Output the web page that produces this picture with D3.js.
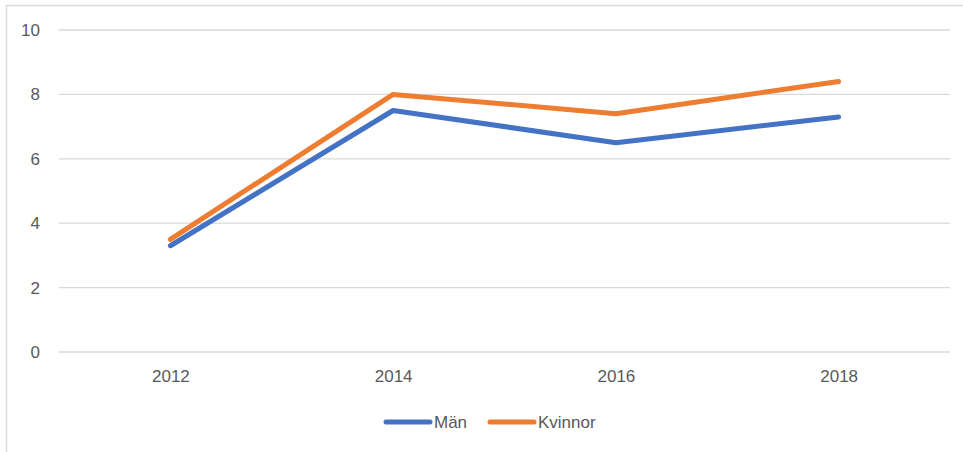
<!DOCTYPE html>
<html lang="sv">
<head>
<meta charset="utf-8">
<script src="https://d3js.org/d3.v7.min.js"></script>
<style>
    body { margin: 0; background: #fff; }
    text { font-family: "Liberation Sans", "DejaVu Sans", sans-serif; fill: #595959; }
</style>
</head>
<body>
<div id="container"></div>
<script>
    var years = ["2012", "2014", "2016", "2018"];
    var man = [3.3, 7.5, 6.5, 7.3];
    var kvinnor = [3.5, 8.0, 7.4, 8.4];
    var yTicks = [0, 2, 4, 6, 8, 10];

    var series = [
        {name: "Män", values: man, color: "#4472C4"},
        {name: "Kvinnor", values: kvinnor, color: "#ED7D31"}
    ];

    var W = 963, H = 452;
    var margin = {top: 30, right: 13, bottom: 100, left: 59},
        width = W - margin.left - margin.right,
        height = H - margin.top - margin.bottom;

    var root = d3.select("#container")
        .append("svg")
        .attr("width", W)
        .attr("height", H);

    // chart frame
    root.append("rect")
        .attr("x", 6.5).attr("y", 5.5)
        .attr("width", W + 10).attr("height", H + 10)
        .attr("fill", "none")
        .attr("stroke", "#d9d9d9")
        .attr("stroke-width", 1.5);

    var svg = root.append("g")
        .attr("transform", "translate(" + margin.left + "," + margin.top + ")");

    var x = d3.scalePoint()
        .domain(years)
        .range([0, width])
        .padding(0.5);

    var y = d3.scaleLinear()
        .domain([0, 10])
        .range([height, 0]);

    // grid lines
    svg.append("g")
        .selectAll("line")
        .data(yTicks)
        .enter()
        .append("line")
        .attr("x1", 0).attr("x2", width)
        .attr("y1", function(d) { return y(d); })
        .attr("y2", function(d) { return y(d); })
        .attr("stroke", "#d9d9d9")
        .attr("stroke-width", 1.3);

    var yAxis = svg.append("g")
        .call(d3.axisLeft(y).tickValues(yTicks).tickSize(0).tickPadding(19));
    yAxis.select(".domain").remove();
    yAxis.selectAll("text").style("font-size", "17px").attr("fill", "#595959");

    var xAxis = svg.append("g")
        .attr("transform", "translate(0," + height + ")")
        .call(d3.axisBottom(x).tickSize(0).tickPadding(18));
    xAxis.select(".domain").remove();
    xAxis.selectAll("text").style("font-size", "17px").attr("fill", "#595959");

    var line = d3.line()
        .x(function(d, i) { return x(years[i]); })
        .y(function(d) { return y(d); });

    svg.selectAll(".series")
        .data(series)
        .enter()
        .append("path")
        .attr("class", "series")
        .attr("d", function(d) { return line(d.values); })
        .attr("fill", "none")
        .attr("stroke", function(d) { return d.color; })
        .attr("stroke-width", 5)
        .attr("stroke-linecap", "round")
        .attr("stroke-linejoin", "round");

    // legend
    var legendX = [386, 490];
    var legend = root.selectAll(".legend")
        .data(series)
        .enter()
        .append("g")
        .attr("class", "legend")
        .attr("transform", function(d, i) { return "translate(" + legendX[i] + ",422)"; });
    legend.append("line")
        .attr("x1", 0).attr("x2", 44)
        .attr("stroke", function(d) { return d.color; })
        .attr("stroke-width", 5)
        .attr("stroke-linecap", "round");
    legend.append("text")
        .attr("x", 48).attr("y", 6)
        .style("font-size", "17px")
        .text(function(d) { return d.name; });
</script>
</body>
</html>
